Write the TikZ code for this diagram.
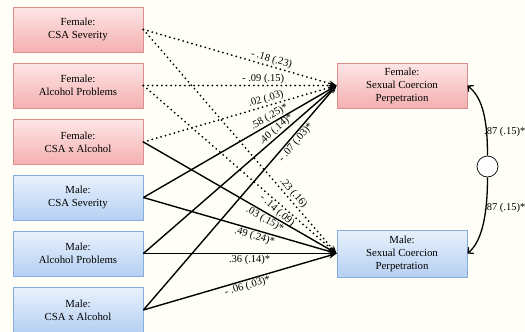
\documentclass[tikz,border=0pt]{standalone}
\usepackage{fontspec}
\setmainfont{Liberation Serif}
\usetikzlibrary{arrows.meta}
\definecolor{bg}{HTML}{FFFFF7}
\definecolor{ftop}{HTML}{FDE6E6}
\definecolor{fbot}{HTML}{F4B0B0}
\definecolor{fbord}{HTML}{DE8E8E}
\definecolor{mtop}{HTML}{E8F1FC}
\definecolor{mbot}{HTML}{B6D0F3}
\definecolor{mbord}{HTML}{86ADE0}
\begin{document}
\begin{tikzpicture}[x=1pt,y=-1pt,
  box/.style={draw, line width=0.8pt, minimum width=130pt, minimum height=45pt, align=center, font=\fontsize{10.8}{13}\selectfont, inner sep=0pt},
  fbox/.style={box, draw=fbord, top color=ftop, bottom color=fbot},
  mbox/.style={box, draw=mbord, top color=mtop, bottom color=mbot},
  pth/.style={line width=1.4pt, -{Stealth[length=8pt,width=6pt]}},
  dpth/.style={line width=2pt, dash pattern=on 0pt off 4.6pt, line cap=round, -{Stealth[length=8pt,width=6pt,line width=0pt]}},
  cpth/.style={line width=1.3pt, -{Straight Barb[length=4pt,width=8pt]}},
  lbl/.style={font=\fontsize{10.5}{12}\selectfont, inner sep=1pt, sloped},
  rlbl/.style={font=\fontsize{10.5}{12}\selectfont, inner sep=0pt, anchor=west}
]
\useasboundingbox (0,0) rectangle (525,332);
\fill[bg] (0,0) rectangle (525,332);

\node[fbox] (fcsa) at (78,29.5) {Female:\\CSA Severity};
\node[fbox] (falc) at (78,85.5) {Female:\\Alcohol Problems};
\node[fbox] (fint) at (78,142) {Female:\\CSA x Alcohol};
\node[mbox] (mcsa) at (78,197.5) {Male:\\CSA Severity};
\node[mbox] (malc) at (78,253.5) {Male:\\Alcohol Problems};
\node[mbox] (mint) at (78,310) {Male:\\CSA x Alcohol};
\node[fbox] (fscp) at (402,85.5) {Female:\\Sexual Coercion\\Perpetration};
\node[mbox, minimum height=47pt] (mscp) at (402,253.5) {Male:\\Sexual Coercion\\Perpetration};
\node[circle, draw, fill=white, minimum size=21pt, inner sep=0pt, line width=0.7pt] (err) at (487.5,166.5) {};

\draw[dpth] (fcsa.east) -- node[lbl,pos=0.653,above]{- .18 (.23)} (fscp.west);
\draw[dpth] (falc.east) -- node[lbl,pos=0.62,above]{- .09 (.15)} (fscp.west);
\draw[dpth] (fint.east) -- node[lbl,pos=0.645,above]{.02 (.03)} (fscp.west);
\draw[pth] (mcsa.east) -- node[lbl,pos=0.67,above]{.58 (.25)*} (fscp.west);
\draw[pth] (malc.east) -- node[lbl,pos=0.71,above]{.40 (.14)*} (fscp.west);
\draw[pth] (mint.east) -- node[lbl,pos=0.765,below]{- .07 (.03)*} (fscp.west);
\draw[dpth] (fcsa.east) -- node[lbl,pos=0.75,above]{.23 (.16)} (mscp.west);
\draw[dpth] (falc.east) -- node[lbl,pos=0.715,below]{- .14 (.09)} (mscp.west);
\draw[pth] (fint.east) -- node[lbl,pos=0.645,below]{.03 (.15)*} (mscp.west);
\draw[pth] (mcsa.east) -- node[lbl,pos=0.585,below]{.49 (.24)*} (mscp.west);
\draw[pth] (malc.east) -- node[lbl,pos=0.55,below]{.36 (.14)*} (mscp.west);
\draw[pth] (mint.east) -- node[lbl,pos=0.53,below]{- .06 (.03)*} (mscp.west);

\draw[cpth] (err.north) .. controls (487.5,112) and (480,96) .. (fscp.east);
\draw[cpth] (err.south) .. controls (487.5,221) and (480,243) .. (mscp.east);
\node[rlbl] (r1) at (484,132) {.87 (.15)*};
\node[rlbl] (r2) at (484,208) {.87 (.15)*};
\end{tikzpicture}
\end{document}
